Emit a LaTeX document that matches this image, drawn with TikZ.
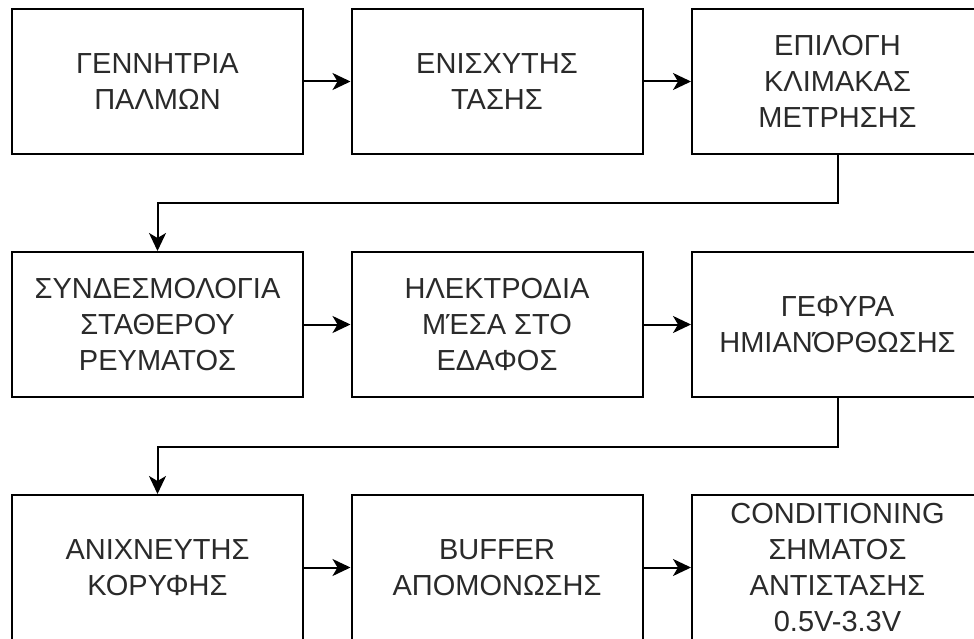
\documentclass[tikz,border=0pt]{standalone}
\usepackage{fontspec}
\setmainfont{Liberation Sans}
\usetikzlibrary{arrows.meta}
\definecolor{txt}{HTML}{2A2A2A}
\tikzset{
  blk/.style={draw=black, line width=2pt, minimum width=291pt, minimum height=145pt,
    inner sep=0pt, align=center, text=txt, font=\fontsize{29}{36}\selectfont},
  link/.style={draw=black, line width=2pt, -{Stealth[length=18pt,width=17pt,inset=5pt]}}
}
\begin{document}
\begin{tikzpicture}[x=1pt,y=-1pt]
\useasboundingbox (0,0) rectangle (974,639);
\node[blk] (b1) at (157.5,81.5) {ΓΕΝΝΗΤΡΙΑ\\ΠΑΛΜΩΝ};
\node[blk] (b2) at (497,81.5) {ΕΝΙΣΧΥΤΗΣ\\ΤΑΣΗΣ};
\node[blk] (b3) at (837.5,81.5) {ΕΠΙΛΟΓΗ\\ΚΛΙΜΑΚΑΣ\\ΜΕΤΡΗΣΗΣ};
\node[blk] (b4) at (157.5,324.5) {ΣΥΝΔΕΣΜΟΛΟΓΙΑ\\ΣΤΑΘΕΡΟΥ\\ΡΕΥΜΑΤΟΣ};
\node[blk] (b5) at (497,324.5) {ΗΛΕΚΤΡΟΔΙΑ\\ΜΈΣΑ ΣΤΟ\\ΕΔΑΦΟΣ};
\node[blk] (b6) at (837.5,324.5) {ΓΕΦΥΡΑ\\ΗΜΙΑΝΌΡΘΩΣΗΣ};
\node[blk] (b7) at (157.5,567.5) {ΑΝΙΧΝΕΥΤΗΣ\\ΚΟΡΥΦΗΣ};
\node[blk] (b8) at (497,567.5) {BUFFER\\ΑΠΟΜΟΝΩΣΗΣ};
\node[blk] (b9) at (837.5,567.5) {CONDITIONING\\ΣΗΜΑΤΟΣ\\ΑΝΤΙΣΤΑΣΗΣ\\0.5V-3.3V};
\draw[link] (b1) -- (b2);
\draw[link] (b2) -- (b3);
\draw[link] (b3.south) -- ++(0,48) -| (b4.north);
\draw[link] (b4) -- (b5);
\draw[link] (b5) -- (b6);
\draw[link] (b6.south) -- ++(0,49) -| (b7.north);
\draw[link] (b7) -- (b8);
\draw[link] (b8) -- (b9);
\end{tikzpicture}
\end{document}
